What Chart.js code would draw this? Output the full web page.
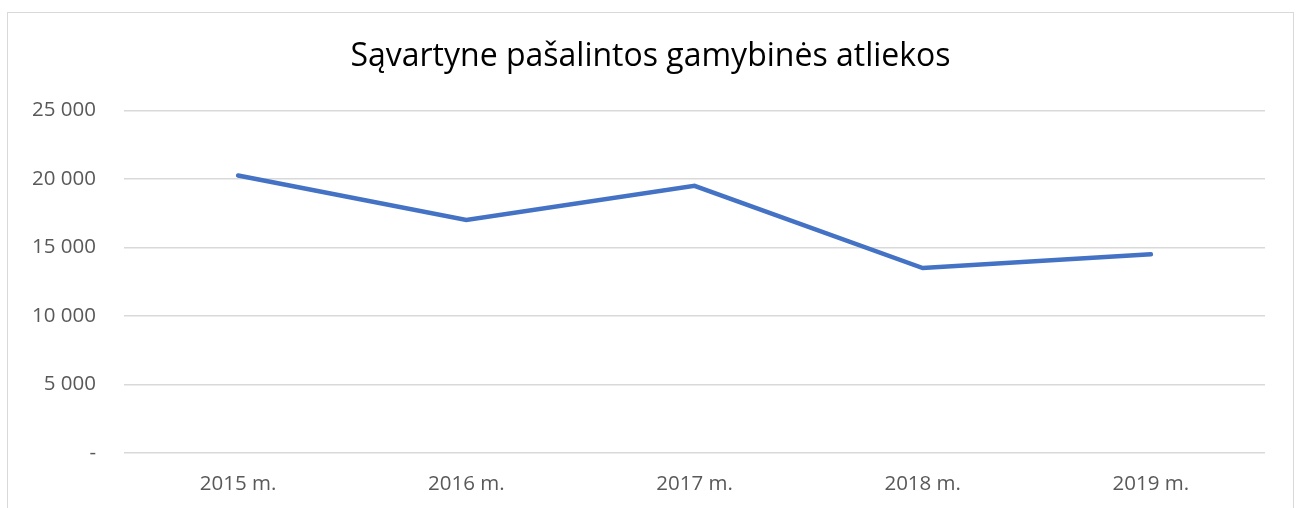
<!DOCTYPE html>
<html>
<head>
<meta charset="utf-8">
<script src="https://cdn.jsdelivr.net/npm/chart.js@4.4.0/dist/chart.umd.min.js"></script>
<style>
  html, body { margin: 0; padding: 0; background: #fff; overflow: hidden; }
  #box {
    position: absolute; left: 7px; top: 12px;
    width: 1287px; height: 510px;
    border: 1px solid #d9d9d9; box-sizing: border-box;
  }
  #chart { display: block; }
</style>
</head>
<body>
<div id="box"><canvas id="chart" width="1285" height="508"></canvas></div>
<script>
const chartTitle = "Sąvartyne pašalintos gamybinės atliekos";
const years = ["2015 m.", "2016 m.", "2017 m.", "2018 m.", "2019 m."];
const wasteValues = [20250, 17000, 19500, 13500, 14500];

const fontFamily = "'Open Sans', 'Noto Sans', sans-serif";

function formatTick(value) {
  if (value === 0) return "-";
  return String(value).replace(/\B(?=(\d{3})+(?!\d))/g, " ");
}

document.addEventListener("DOMContentLoaded", () => {
  const ctx = document.getElementById("chart").getContext("2d");

  new Chart(ctx, {
    type: "line",
    data: {
      labels: years,
      datasets: [{
        label: chartTitle,
        data: wasteValues,
        borderColor: "#4472C4",
        borderWidth: 4.5,
        borderCapStyle: "round",
        borderJoinStyle: "miter",
        pointRadius: 0,
        tension: 0,
        fill: false
      }]
    },
    options: {
      responsive: false,
      animation: false,
      layout: { padding: 0 },
      plugins: {
        legend: { display: false },
        tooltip: { enabled: false },
        title: {
          display: true,
          text: chartTitle,
          color: "#000000",
          font: { family: fontFamily, size: 32, weight: "normal" },
          padding: { top: 25, bottom: 34 }
        }
      },
      scales: {
        x: {
          offset: true,
          grid: { display: false, drawTicks: false },
          border: { display: false },
          ticks: {
            color: "#595959",
            font: { family: fontFamily, size: 20.5 },
            padding: 19,
            maxRotation: 0
          },
          afterFit: (scale) => { scale.height = 68; }
        },
        y: {
          min: 0,
          max: 25000,
          grid: { color: "#d9d9d9", lineWidth: 1.5, drawTicks: false },
          border: { display: false },
          ticks: {
            stepSize: 5000,
            color: "#595959",
            font: { family: fontFamily, size: 20.5 },
            padding: 28,
            callback: formatTick
          },
          afterFit: (scale) => { scale.width = 116; }
        },
        // empty right-hand axis that only reserves the right margin
        yRight: {
          position: "right",
          min: 0,
          max: 25000,
          grid: { display: false, drawTicks: false },
          border: { display: false },
          ticks: { display: false },
          afterFit: (scale) => { scale.width = 28; }
        }
      }
    }
  });
});
</script>
</body>
</html>
